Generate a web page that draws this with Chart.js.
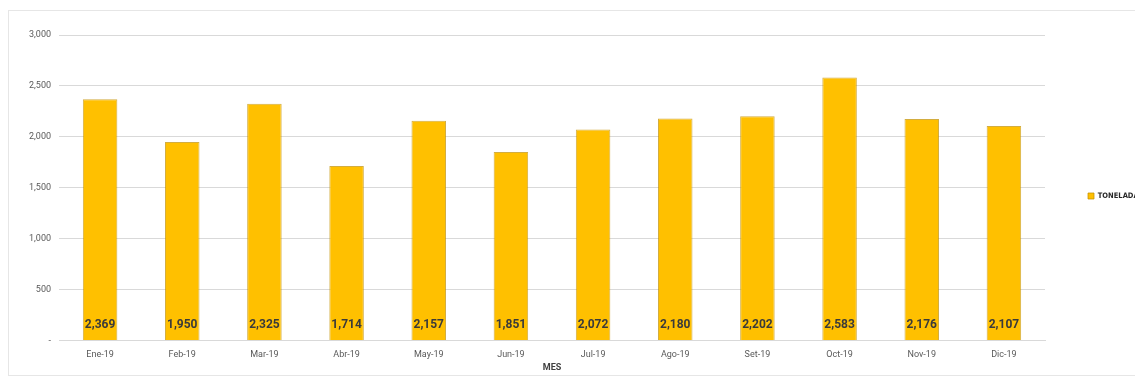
<!DOCTYPE html>
<html>
<head>
<meta charset="utf-8">
<script src="https://cdn.jsdelivr.net/npm/chart.js@4/dist/chart.umd.min.js"></script>
<style>
  html, body { margin: 0; padding: 0; background: #ffffff; overflow: hidden; width: 1135px; height: 381px; }
  #frame { position: absolute; left: 8px; top: 10px; width: 1200px; height: 366px; border: 1px solid #e6e6e6; box-sizing: border-box; }
  #wrap { position: absolute; left: 0; top: 0; width: 1165px; height: 381px; }
</style>
</head>
<body>
<div id="frame"></div>
<div id="wrap"><canvas id="c" width="1165" height="381"></canvas></div>
<script>
// Monthly tonnage, 2019
const months = ['Ene-19','Feb-19','Mar-19','Abr-19','May-19','Jun-19','Jul-19','Ago-19','Set-19','Oct-19','Nov-19','Dic-19'];
const toneladas = [2369, 1950, 2325, 1714, 2157, 1851, 2072, 2180, 2202, 2583, 2176, 2107];
const yTickValues = [0, 500, 1000, 1500, 2000, 2500, 3000];
const yTickLabels = ['-', '500', '1,000', '1,500', '2,000', '2,500', '3,000'];
const seriesName = 'TONELADAS';
const axisTitle = 'MES';

const FONT = "'Roboto', 'Liberation Sans', sans-serif";
const LEGEND_FONT = "'DejaVu Sans Condensed', 'Roboto', sans-serif";
const CANVAS_W = 1165;
const PLOT_RIGHT = 1045;

// Value labels placed near the base of each bar
const baseLabels = {
  id: 'baseLabels',
  afterDatasetsDraw(chart) {
    const ctx = chart.ctx;
    const meta = chart.getDatasetMeta(0);
    const yBase = chart.scales.y.getPixelForValue(0);
    ctx.save();
    ctx.font = "bold 12px " + FONT;
    ctx.fillStyle = '#3a3a3a';
    ctx.textAlign = 'center';
    ctx.textBaseline = 'alphabetic';
    meta.data.forEach((bar, i) => {
      ctx.fillText(toneladas[i].toLocaleString('en-US'), bar.x, yBase - 12);
    });
    ctx.restore();
  }
};

// Fixed-width legend column on the right side, nudged up a little
const legendWidth = {
  id: 'legendWidth',
  beforeLayout(chart) {
    const lg = chart.legend;
    if (lg && !lg._fixedFit) {
      const fit = lg.fit.bind(lg);
      lg.fit = function () { fit(); this.width = CANVAS_W - PLOT_RIGHT; };
      lg._fixedFit = true;
    }
  },
  afterLayout(chart) {
    const lg = chart.legend;
    if (lg) { lg.top -= 8; lg.bottom -= 8; }
  }
};

new Chart(document.getElementById('c'), {
  type: 'bar',
  data: {
    labels: months,
    datasets: [{
      label: seriesName,
      data: toneladas,
      backgroundColor: '#FFC000',
      borderColor: 'rgba(196,146,0,0.75)',
      borderWidth: 1,
      categoryPercentage: 1,
      barPercentage: 0.42
    }]
  },
  options: {
    responsive: false,
    animation: false,
    layout: { padding: { left: 6, top: 35, right: 0, bottom: 8 } },
    plugins: {
      tooltip: { enabled: false },
      legend: {
        position: 'right',
        labels: {
          boxWidth: 6,
          boxHeight: 6,
          padding: 43,
          color: '#262626',
          font: { family: LEGEND_FONT, size: 7.5, weight: 'bold' }
        }
      }
    },
    scales: {
      x: {
        grid: { display: false, drawTicks: false },
        border: { color: '#d9d9d9' },
        ticks: {
          color: '#595959',
          padding: 9,
          maxRotation: 0,
          autoSkip: false,
          font: { family: FONT, size: 9 }
        },
        title: {
          display: true,
          text: axisTitle,
          color: '#404040',
          padding: { top: -7, bottom: 0 },
          font: { family: FONT, size: 9, weight: 'bold' }
        }
      },
      y: {
        min: 0,
        max: 3000,
        afterBuildTicks(scale) { scale.ticks = yTickValues.map(v => ({ value: v })); },
        afterFit(scale) { scale.width = 53; },
        grid: { color: '#d9d9d9', drawTicks: false },
        border: { display: false },
        ticks: {
          color: '#595959',
          padding: 8,
          font: { family: FONT, size: 9 },
          callback: (v) => yTickLabels[yTickValues.indexOf(v)]
        }
      }
    }
  },
  plugins: [baseLabels, legendWidth]
});
</script>
</body>
</html>
